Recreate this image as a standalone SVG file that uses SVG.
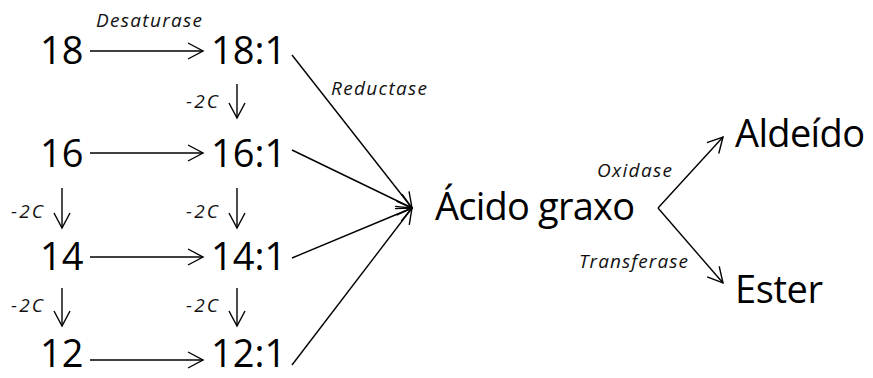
<svg xmlns="http://www.w3.org/2000/svg" width="873" height="378" viewBox="0 0 873 378">
<defs>
<marker id="arr" viewBox="-17 -10 19 20" markerWidth="19" markerHeight="20" refX="0" refY="0" orient="auto" markerUnits="userSpaceOnUse">
<path d="M-15,-8 L0,0 L-15,8" fill="none" stroke="#000" stroke-width="1.4" stroke-linejoin="miter"/>
</marker>
<style>
.big{font-family:"Open Sans","Liberation Sans",sans-serif;font-size:38px;fill:#000}
.lab{font-family:"Open Sans","Liberation Sans",sans-serif;font-size:19px;font-style:italic;fill:#111}
.c line{stroke:#000;stroke-width:1.4;fill:none;marker-end:url(#arr)}
</style>
</defs>
<rect width="873" height="378" fill="#fff"/>
<g id="n18"><text class="big" x="40" y="64">18</text></g>
<g id="n18_1"><text class="big" x="211" y="64">18:1</text></g>
<g id="n16"><text class="big" x="40" y="167">16</text></g>
<g id="n16_1"><text class="big" x="211" y="167">16:1</text></g>
<g id="n14"><text class="big" x="40" y="270">14</text></g>
<g id="n14_1"><text class="big" x="211" y="270">14:1</text></g>
<g id="n12"><text class="big" x="40" y="367">12</text></g>
<g id="n12_1"><text class="big" x="211" y="367">12:1</text></g>
<g id="acido"><text class="big" x="435" y="220" textLength="200">Ácido graxo</text></g>
<g id="aldeido"><text class="big" x="735" y="147" textLength="130">Aldeído</text></g>
<g id="ester"><text class="big" x="735" y="303" textLength="88">Ester</text></g>
<g class="c" id="connectors">
<line x1="90" y1="51" x2="203" y2="51"/>
<line x1="90" y1="153" x2="203" y2="153"/>
<line x1="90" y1="257" x2="203" y2="257"/>
<line x1="90" y1="360" x2="203" y2="360"/>
<line x1="237" y1="84" x2="237" y2="118"/>
<line x1="237" y1="188" x2="237" y2="228"/>
<line x1="237" y1="288" x2="237" y2="326"/>
<line x1="62" y1="188" x2="62" y2="228"/>
<line x1="62" y1="288" x2="62" y2="326"/>
<line x1="292" y1="55" x2="412" y2="208"/>
<line x1="292" y1="150" x2="412" y2="208"/>
<line x1="292" y1="258" x2="412" y2="208"/>
<line x1="292" y1="365" x2="412" y2="208"/>
<line x1="658" y1="208" x2="723" y2="137"/>
<line x1="658" y1="208" x2="723" y2="283"/>
</g>
<g id="labels">
<text class="lab" x="96" y="27" textLength="106">Desaturase</text>
<text class="lab" x="186" y="108" textLength="32">-2C</text>
<text class="lab" x="186" y="218" textLength="32">-2C</text>
<text class="lab" x="186" y="312" textLength="32">-2C</text>
<text class="lab" x="11" y="218" textLength="32">-2C</text>
<text class="lab" x="11" y="312" textLength="32">-2C</text>
<text class="lab" x="331" y="95" textLength="96">Reductase</text>
<text class="lab" x="597" y="177" textLength="75">Oxidase</text>
<text class="lab" x="579" y="268" textLength="109">Transferase</text>
</g>
</svg>
